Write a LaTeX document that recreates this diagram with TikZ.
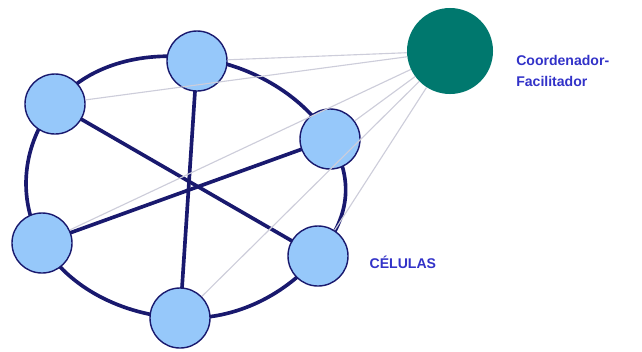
\documentclass[tikz,border=0pt]{standalone}
\usepackage{fontspec}
\setmainfont{Liberation Sans}
\usepackage{tikz}
\usetikzlibrary{positioning,calc}
\definecolor{cellfill}{RGB}{150,200,250}
\definecolor{navy}{RGB}{25,25,110}
\definecolor{coordteal}{RGB}{0,120,110}
\definecolor{labelblue}{RGB}{50,50,200}
\definecolor{linkgray}{RGB}{205,205,218}
\tikzset{cellnode/.style={shape=circle, draw=navy, fill=cellfill, line width=1pt, minimum size=1.5cm, inner sep=0pt}}
\tikzset{coordnode/.style={shape=circle, fill=coordteal, minimum size=2.15cm, inner sep=0pt}}
\tikzset{ringline/.style={draw=navy, line width=2.6pt}}
\tikzset{linkline/.style={draw=linkgray, line width=0.8pt}}
\tikzset{labeltext/.style={text=labelblue, font=\bfseries\fontsize{10}{15.5}\selectfont, align=left}}

\begin{document}
\begin{tikzpicture}[x=0.025cm, y=-0.025cm]
\useasboundingbox (0,0) rectangle (642,351);
%Ring and spokes
\draw[ringline] plot[smooth cycle, tension=0.75] coordinates {(197,58) (330,139) (318,256) (180,318) (42,243) (55,104)};
\draw[ringline] (55,104) -- (318,256);
\draw[ringline] (197,61) -- (180,318);
\draw[ringline] (42,243) -- (330,139);
%Nodes
\node[coordnode]  (coord)  at (450,51)  {};
\node[cellnode]   (top)    at (197,61)  {};
\node[cellnode]   (ul)     at (55,104)  {};
\node[cellnode]   (ru)     at (330,139) {};
\node[cellnode]   (ll)     at (42,243)  {};
\node[cellnode]   (rl)     at (318,256) {};
\node[cellnode]   (bot)    at (180,318) {};
\node[labeltext]  (coordlabel) [right=0.45cm of coord, yshift=-0.5cm] {Coordenador-\\Facilitador};
\node[labeltext]  (cells)      [right=0.4cm of rl, yshift=-0.15cm] {CÉLULAS};
%Lines
\foreach \c in {top,ul,ru,ll,rl,bot}
  \draw[linkline] (coord) -- (\c);
\end{tikzpicture}
\end{document}
